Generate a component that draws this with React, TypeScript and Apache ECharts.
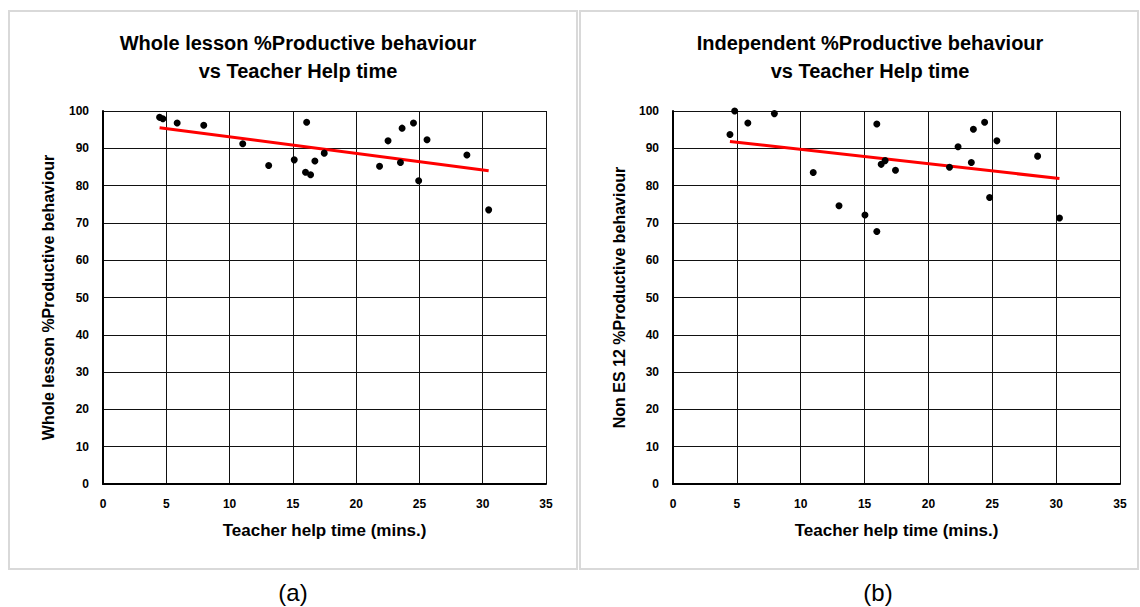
import React, { useEffect, useRef } from "react";
import * as echarts from "echarts";

const xTicks = [0, 5, 10, 15, 20, 25, 30, 35];
const yTicks = [0, 10, 20, 30, 40, 50, 60, 70, 80, 90, 100];

const titleA = "Whole lesson %Productive behaviour\nvs Teacher Help time";
const titleB = "Independent %Productive behaviour\nvs Teacher Help time";
const xNameA = "Teacher help time (mins.)";
const xNameB = "Teacher help time (mins.)";
const yNameA = "Whole lesson %Productive behaviour";
const yNameB = "Non ES 12 %Productive behaviour";
const captions = ["(a)", "(b)"];

const helpTimeA = [4.47, 4.73, 5.86, 7.96, 11.04, 13.09, 15.11, 16.09, 16.0, 16.4, 16.74, 17.48, 21.85, 22.52, 23.5, 23.63, 24.53, 24.94, 25.6, 28.75, 30.47];
const productiveA = [98.3, 97.9, 96.8, 96.2, 91.2, 85.4, 86.9, 97.0, 83.6, 82.9, 86.6, 88.7, 85.2, 92.0, 86.2, 95.4, 96.8, 81.3, 92.3, 88.2, 73.5];
const trendA = [[4.47, 95.5], [30.47, 84.0]];

const helpTimeB = [4.83, 4.46, 5.86, 7.94, 10.98, 13.0, 15.03, 15.96, 15.96, 16.3, 16.61, 17.42, 21.65, 22.32, 23.36, 23.52, 24.4, 24.79, 25.36, 28.55, 30.26];
const productiveB = [100, 93.7, 96.8, 99.3, 83.5, 74.6, 72.1, 96.5, 67.7, 85.7, 86.7, 84.1, 84.9, 90.4, 86.2, 95.1, 97.0, 76.8, 92.0, 87.9, 71.3];
const trendB = [[4.46, 91.85], [30.26, 81.9]];

const FONT = "'Liberation Sans', Arial, sans-serif";

export default function App() {
  const ref = useRef<HTMLDivElement>(null);
  useEffect(() => {
    document.body.style.margin = "0";
    const chart = echarts.init(ref.current!, null, { renderer: "svg" });
    const pts = (xs: number[], ys: number[]) => xs.map((x, i) => [x, ys[i]]);
    const mkX = (gridIndex: number, name: string) => ({
      type: "value",
      gridIndex,
      min: xTicks[0],
      max: xTicks[xTicks.length - 1],
      interval: 5,
      name,
      nameLocation: "middle",
      nameGap: 38,
      nameTextStyle: { fontFamily: FONT, fontWeight: "bold", fontSize: 17, color: "#000" },
      axisLine: { show: true, lineStyle: { color: "#000", width: 2 } },
      axisTick: { show: false },
      axisLabel: { fontFamily: FONT, fontWeight: "bold", fontSize: 12, color: "#000", margin: 14 },
      splitLine: { show: true, lineStyle: { color: "#111", width: 1 } },
    });
    const mkY = (gridIndex: number, name: string, gap: number) => ({
      type: "value",
      gridIndex,
      min: yTicks[0],
      max: yTicks[yTicks.length - 1],
      interval: 10,
      name,
      nameLocation: "middle",
      nameRotate: 90,
      nameGap: gap,
      nameTextStyle: { fontFamily: FONT, fontWeight: "bold", fontSize: 16, color: "#000" },
      axisLine: { show: true, lineStyle: { color: "#000", width: 2 } },
      axisTick: { show: false },
      axisLabel: { fontFamily: FONT, fontWeight: "bold", fontSize: 12, color: "#000", margin: 14 },
      splitLine: { show: true, lineStyle: { color: "#111", width: 1 } },
    });
    const titleStyle = { fontFamily: FONT, fontWeight: "bold", fontSize: 20, lineHeight: 28, color: "#000" };
    chart.setOption({
      animation: false,
      backgroundColor: "#fff",
      title: [
        { text: titleA, left: 293, top: 24, textAlign: "center", textStyle: titleStyle },
        { text: titleB, left: 865, top: 24, textAlign: "center", textStyle: titleStyle },
      ],
      grid: [
        { left: 103, top: 111, width: 443, height: 373 },
        { left: 673, top: 111, width: 447, height: 373 },
      ],
      xAxis: [mkX(0, xNameA), mkX(1, xNameB)],
      yAxis: [mkY(0, yNameA, 47), mkY(1, yNameB, 46)],
      series: [
        {
          type: "scatter",
          xAxisIndex: 0,
          yAxisIndex: 0,
          data: pts(helpTimeA, productiveA),
          symbolSize: 7,
          itemStyle: { color: "#000", opacity: 1 },
          z: 3,
        },
        {
          type: "line",
          xAxisIndex: 0,
          yAxisIndex: 0,
          data: trendA,
          showSymbol: false,
          lineStyle: { color: "#ff0000", width: 3 },
          z: 2,
        },
        {
          type: "scatter",
          xAxisIndex: 1,
          yAxisIndex: 1,
          data: pts(helpTimeB, productiveB),
          symbolSize: 7,
          itemStyle: { color: "#000", opacity: 1 },
          z: 3,
        },
        {
          type: "line",
          xAxisIndex: 1,
          yAxisIndex: 1,
          data: trendB,
          showSymbol: false,
          lineStyle: { color: "#ff0000", width: 3 },
          z: 2,
        },
      ],
      graphic: [
        {
          type: "rect",
          shape: { x: 9, y: 11, width: 568, height: 558 },
          style: { fill: "none", stroke: "#d9d9d9", lineWidth: 2 },
          z: -1,
        },
        {
          type: "rect",
          shape: { x: 580, y: 11, width: 558, height: 558 },
          style: { fill: "none", stroke: "#d9d9d9", lineWidth: 2 },
          z: -1,
        },
        {
          type: "text",
          x: 293,
          y: 592,
          style: { text: captions[0], fontFamily: FONT, fontSize: 24, fill: "#000", align: "center", verticalAlign: "middle" },
        },
        {
          type: "text",
          x: 878,
          y: 592,
          style: { text: captions[1], fontFamily: FONT, fontSize: 24, fill: "#000", align: "center", verticalAlign: "middle" },
        },
      ],
    });
    return () => chart.dispose();
  }, []);
  return <div ref={ref} style={{ width: 1140, height: 607 }} />;
}
